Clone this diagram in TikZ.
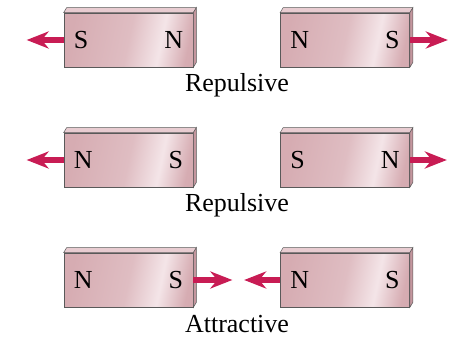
\documentclass[tikz,border=0pt]{standalone}
\usepackage{fontspec}
\setmainfont{Liberation Serif}
\usetikzlibrary{positioning,arrows.meta}
\definecolor{magnetpink}{RGB}{214,172,178}
\definecolor{magnetdark}{RGB}{204,158,166}
\definecolor{magnetlight}{RGB}{244,229,232}
\definecolor{magnettop}{RGB}{232,204,209}
\definecolor{magnetside}{RGB}{196,150,158}
\definecolor{forcered}{RGB}{200,28,84}
\pgfdeclarehorizontalshading{magnetstreak}{100bp}{color(0bp)=(magnetpink); color(25bp)=(magnetpink); color(50bp)=(magnetpink!70!magnetlight); color(64bp)=(magnetlight); color(76bp)=(magnetpink); color(100bp)=(magnetdark)}
\tikzset{
  magnet/.style={draw=black!65, line width=0.7pt, minimum width=129pt, minimum height=54pt, inner sep=0pt,
    shade, shading=magnetstreak, shading angle=-12},
  magtop/.style={draw=black!65, line width=0.5pt, fill=magnettop},
  magside/.style={draw=black!65, line width=0.5pt, fill=magnetside},
  pole/.style={inner sep=0pt, font=\fontsize{26}{28}\selectfont},
  caption/.style={anchor=base, inner sep=0pt, font=\fontsize{26}{28}\selectfont},
  force/.style={forcered, line width=6pt, -{Stealth[length=22pt,width=17pt,inset=7pt]}}
}
\begin{document}
\begin{tikzpicture}[x=1pt,y=1pt]
\useasboundingbox (0,0) rectangle (449,337);
\foreach \i/\y/\a/\b/\c/\d/\txt in {1/297/S/N/N/S/Repulsive,2/177/N/S/S/N/Repulsive,3/57/N/S/N/S/Attractive}{
  \node[magnet] (l\i) at (128.5,\y) {};
  \node[magnet] (r\i) at (345,\y) {};
  \foreach \m in {l\i,r\i}{
    \draw[magtop] (\m.north west) -- ++(3,5) -- ([shift={(3,5)}]\m.north east) -- (\m.north east) -- cycle;
    \draw[magside] (\m.north east) -- ++(3,5) -- ([shift={(3,5)}]\m.south east) -- (\m.south east) -- cycle;
  }
  \node[pole,right=10pt of l\i.west] (l\i w) {\a};
  \node[pole,left=10pt of l\i.east] (l\i e) {\b};
  \node[pole,right=10pt of r\i.west] (r\i w) {\c};
  \node[pole,left=10pt of r\i.east] (r\i e) {\d};
  \node[caption] (c\i) at (237,\y-52) {\txt};
}
\coordinate[left=37pt of l1.west] (t1l);
\coordinate[right=38pt of r1.east] (t1r);
\coordinate[left=37pt of l2.west] (t2l);
\coordinate[right=37pt of r2.east] (t2r);
\coordinate[right=39pt of l3.east] (t3l);
\coordinate[left=36pt of r3.west] (t3r);
\draw[force] (l1.west) -- (t1l);
\draw[force] (r1.east) -- (t1r);
\draw[force] (l2.west) -- (t2l);
\draw[force] (r2.east) -- (t2r);
\draw[force] (l3.east) -- (t3l);
\draw[force] (r3.west) -- (t3r);
\end{tikzpicture}
\end{document}
